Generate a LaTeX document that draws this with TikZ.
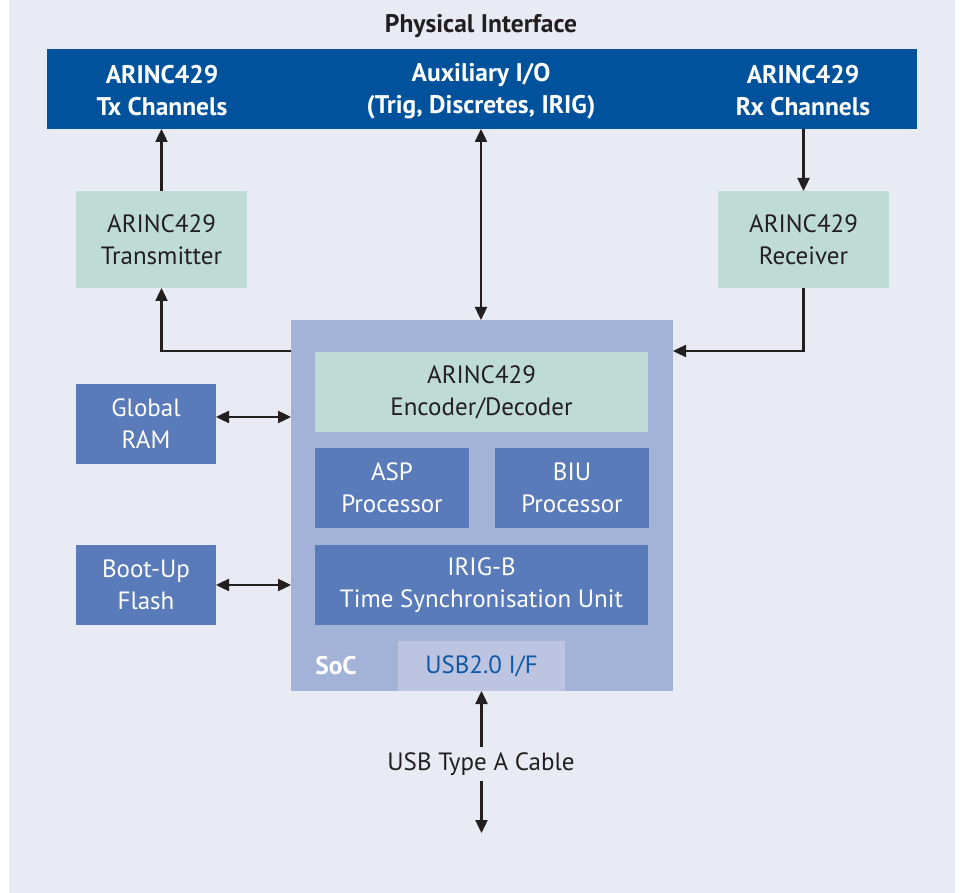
\documentclass[tikz,border=0pt]{standalone}
\usepackage{fontspec}
\setmainfont{PT Sans}
\usetikzlibrary{arrows.meta,calc}
\definecolor{panel}{HTML}{E8EBF4}
\definecolor{barblue}{HTML}{00529C}
\definecolor{mint}{HTML}{BFDBD5}
\definecolor{socbg}{HTML}{A3B2D7}
\definecolor{midblue}{HTML}{5A7BB9}
\definecolor{usbbg}{HTML}{BCC4E1}
\definecolor{usbtxt}{HTML}{0F5AA5}
\definecolor{ink}{HTML}{231F20}
\tikzset{
  base/.style={inner sep=0pt, outer sep=0pt, align=center, font=\fontsize{25}{32}\selectfont},
  mintbox/.style={base, fill=mint, text=ink},
  bluebox/.style={base, fill=midblue, text=white},
  boldtext/.style={base, font=\fontsize{25.5}{32}\selectfont\bfseries},
  bartext/.style={boldtext, text=white},
  arr/.style={draw=ink, line width=2.4pt, -{Triangle[length=13pt,width=12pt]}},
  darr/.style={draw=ink, line width=2.4pt, {Triangle[length=13pt,width=12pt]}-{Triangle[length=13pt,width=12pt]}},
}
\begin{document}
\begin{tikzpicture}[x=1pt,y=-1pt]
\useasboundingbox (0,0) rectangle (962,893);
\fill[white] (0,0) rectangle (962,893);
\fill[panel] (9,0) rectangle (955,893);
% title
\node[boldtext, text=ink] (title) at (481,26) {Physical Interface};
% top bar
\node[base, fill=barblue, minimum width=870pt, minimum height=80pt] (bar) at (482,89) {};
\node[bartext] (txch) at (162,91) {ARINC429\\Tx Channels};
\node[bartext] (aux) at (481,91) {Auxiliary I/O\\(Trig, Discretes, IRIG)};
\node[bartext] (rxch) at (803,91) {ARINC429\\Rx Channels};
% transmitter / receiver
\node[mintbox, minimum width=171pt, minimum height=97pt] (tx) at (161.5,239.5) {ARINC429\\Transmitter};
\node[mintbox, minimum width=171pt, minimum height=97pt] (rx) at (803.5,239.5) {ARINC429\\Receiver};
% SoC
\node[base, fill=socbg, minimum width=382pt, minimum height=371pt] (soc) at (482,505.5) {};
\node[mintbox, minimum width=333pt, minimum height=80pt] (enc) at (481.5,392) {ARINC429\\Encoder/Decoder};
\node[bluebox, minimum width=154pt, minimum height=80pt] (asp) at (392,488) {ASP\\Processor};
\node[bluebox, minimum width=154pt, minimum height=80pt] (biu) at (572,488) {BIU\\Processor};
\node[bluebox, minimum width=333pt, minimum height=80pt] (irig) at (481.5,585) {IRIG-B\\Time Synchronisation Unit};
\node[base, fill=usbbg, text=usbtxt, minimum width=167pt, minimum height=50pt] (usb) at (481.5,666) {USB2.0 I/F};
\node[boldtext, text=white] (soclbl) at (336,666) {SoC};
% memories
\node[bluebox, minimum width=140pt, minimum height=80pt] (ram) at (146,424) {Global\\RAM};
\node[bluebox, minimum width=140pt, minimum height=80pt] (flash) at (146,585) {Boot-Up\\Flash};
% cable label
\node[base, text=ink, inner ysep=6pt] (cable) at (481,764) {USB Type A Cable};
\coordinate (cableend) at (481,833);
\coordinate (ramport) at ([yshift=7pt]ram.east);
% connectors
\draw[arr] (tx.north) -- (bar.south -| tx.north);
\draw[darr] (bar.south -| aux) -- (soc.north -| aux);
\draw[arr] (bar.south -| rx.north) -- (rx.north);
\draw[arr] ([yshift=-31pt]soc.north west) -| (tx.south);
\draw[arr] (rx.south) |- ([yshift=-31pt]soc.north east);
\draw[darr] (ramport) -- (soc.west |- ramport);
\draw[darr] (flash.east) -- (soc.west |- flash.east);
\draw[arr] (cable.north -| usb.south) -- (usb.south);
\draw[arr] (cable.south -| usb.south) -- (cableend -| usb.south);
\end{tikzpicture}
\end{document}
